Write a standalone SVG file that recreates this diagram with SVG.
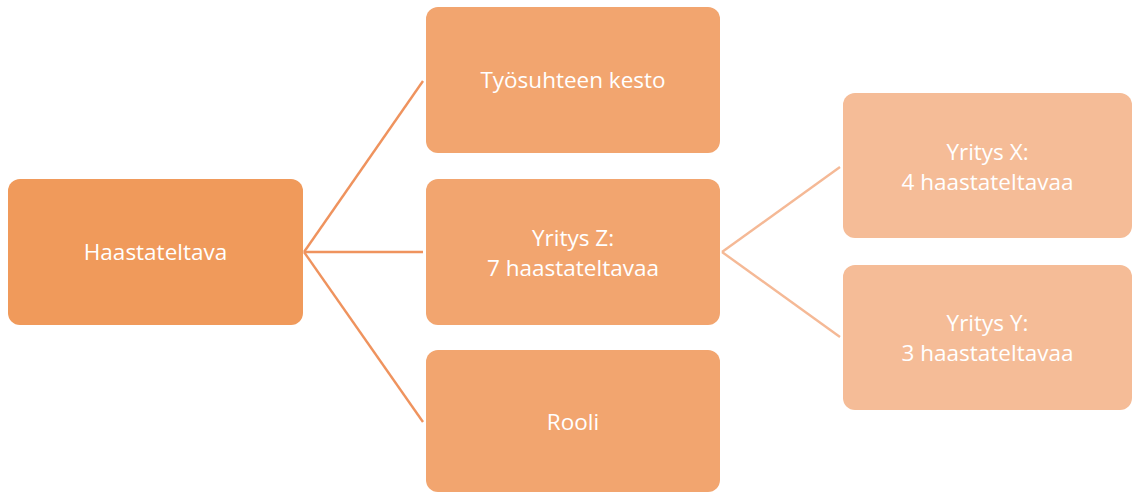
<svg xmlns="http://www.w3.org/2000/svg" width="1132" height="492" viewBox="0 0 1132 492">
  <style>
    .n1 { fill: #F09A5B; }
    .n2 { fill: #F2A56F; }
    .n3 { fill: #F5BC97; }
    .lbl { fill: #FFFFFF; font-family: "Open Sans", "Liberation Sans", sans-serif; font-size: 22.5px; text-anchor: middle; }
    .c1 { stroke: #EF935E; stroke-width: 2.4; fill: none; }
    .c2 { stroke: #F5B996; stroke-width: 2.4; fill: none; }
  </style>
  <rect width="1132" height="492" fill="#FFFFFF"/>

  <!-- connectors -->
  <g id="connectors">
    <line class="c1" x1="304" y1="252" x2="423" y2="81"/>
    <line class="c1" x1="304" y1="252" x2="423" y2="252"/>
    <line class="c1" x1="304" y1="252" x2="423" y2="422"/>
    <line class="c2" x1="722" y1="252" x2="840" y2="167"/>
    <line class="c2" x1="722" y1="252" x2="840" y2="337"/>
  </g>

  <g id="node-haastateltava">
    <rect class="n1" x="8" y="179" width="295" height="146" rx="12"/>
    <text class="lbl" x="155.5" y="260">Haastateltava</text>
  </g>

  <g id="node-tyosuhteen-kesto">
    <rect class="n2" x="426" y="7" width="294" height="146" rx="12"/>
    <text class="lbl" x="573" y="88">Työsuhteen kesto</text>
  </g>

  <g id="node-yritys-z">
    <rect class="n2" x="426" y="179" width="294" height="146" rx="12"/>
    <text class="lbl" x="573" y="246">Yritys Z:</text>
    <text class="lbl" x="573" y="276">7 haastateltavaa</text>
  </g>

  <g id="node-rooli">
    <rect class="n2" x="426" y="350" width="294" height="142" rx="12"/>
    <text class="lbl" x="573" y="430">Rooli</text>
  </g>

  <g id="node-yritys-x">
    <rect class="n3" x="843" y="93" width="289" height="145" rx="12"/>
    <text class="lbl" x="987.5" y="160">Yritys X:</text>
    <text class="lbl" x="987.5" y="190">4 haastateltavaa</text>
  </g>

  <g id="node-yritys-y">
    <rect class="n3" x="843" y="265" width="289" height="145" rx="12"/>
    <text class="lbl" x="987.5" y="331">Yritys Y:</text>
    <text class="lbl" x="987.5" y="361">3 haastateltavaa</text>
  </g>
</svg>
